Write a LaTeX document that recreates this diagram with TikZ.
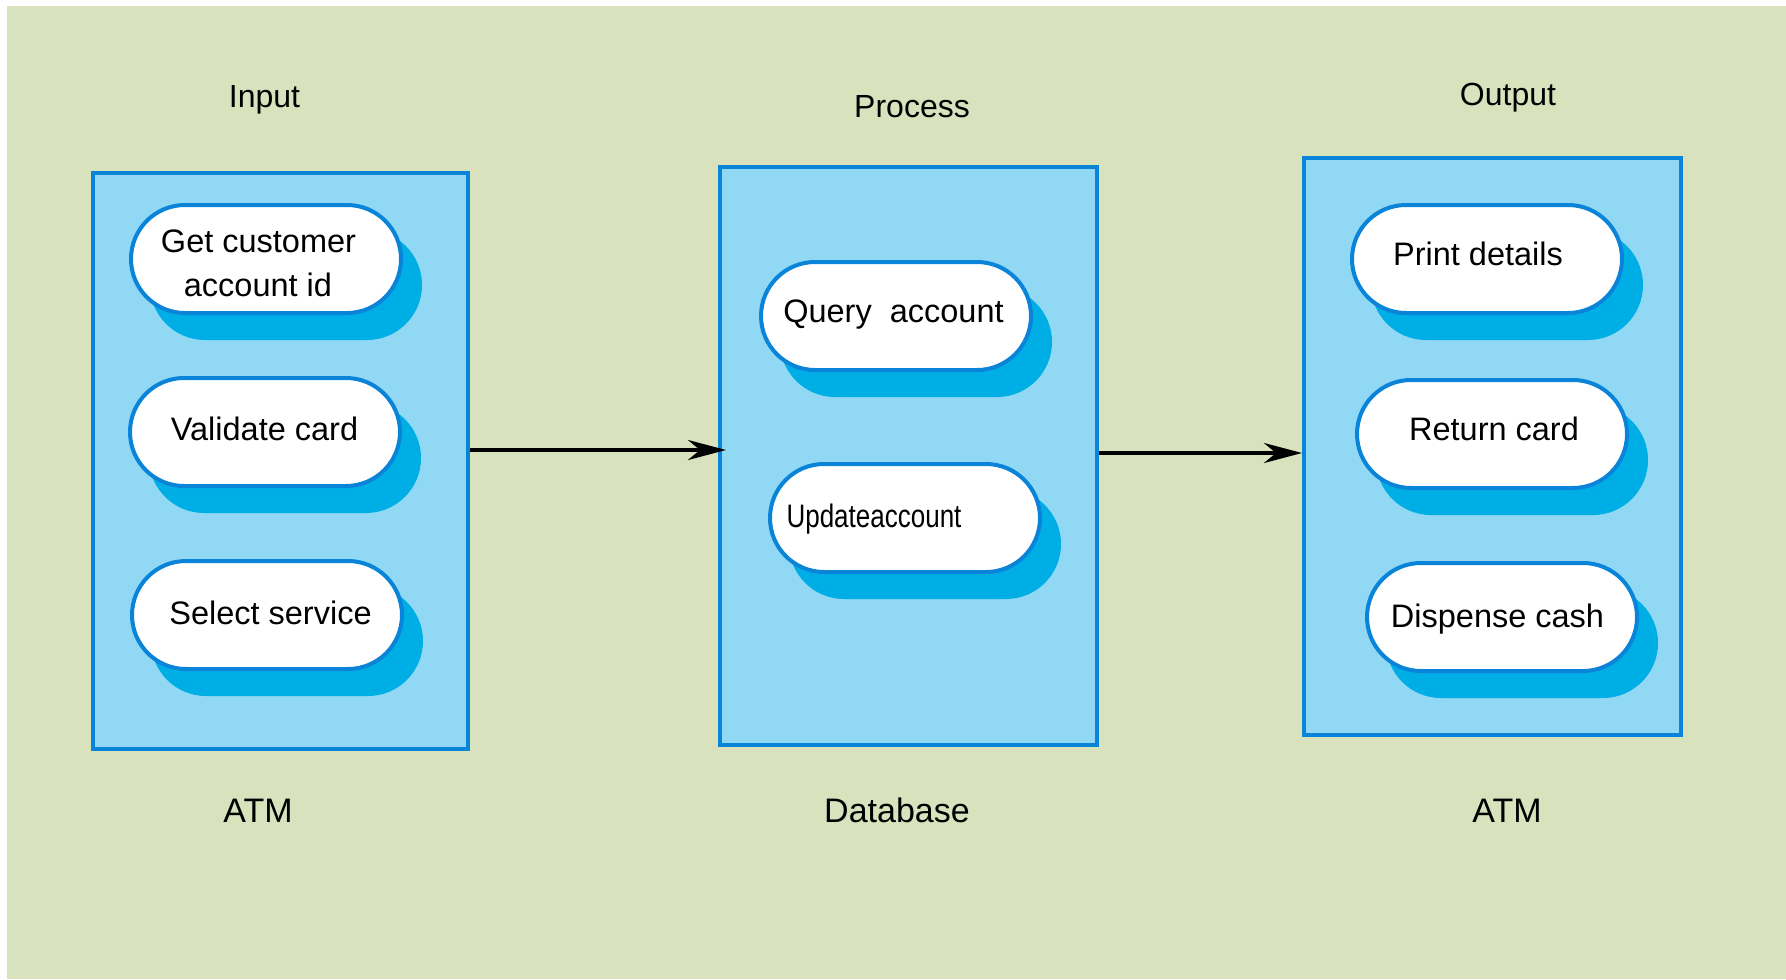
\documentclass[tikz,border=0pt]{standalone}
\usepackage{fontspec}
\setmainfont{Liberation Sans}
\usepackage{graphicx}
\usetikzlibrary{shapes.misc,arrows.meta,calc}
\definecolor{bggreen}{HTML}{D8E3BE}
\definecolor{boxblue}{HTML}{90D8F4}
\definecolor{edgeblue}{HTML}{0A84D8}
\definecolor{shadowblue}{HTML}{00AEE6}
\begin{document}
\begin{tikzpicture}[x=0.5pt,y=-0.5pt,
  pill/.style={rounded rectangle, draw=edgeblue, line width=2pt, fill=white,
    minimum width=135pt, minimum height=54pt, inner sep=0pt},
  pillshadow/.style={rounded rectangle, fill=shadowblue,
    minimum width=136pt, minimum height=55pt, inner sep=0pt},
  group/.style={rectangle, draw=edgeblue, line width=2pt, fill=boxblue, inner sep=0pt},
  ptext/.style={font=\fontsize{16.25}{22}\selectfont, align=center, inner sep=0pt, anchor=base},
  head/.style={font=\fontsize{16}{19}\selectfont, inner sep=0pt, anchor=base},
  foot/.style={font=\fontsize{17}{20}\selectfont, inner sep=0pt, anchor=base},
  arr/.style={line width=2pt, -{Stealth[length=19pt,width=10pt,inset=6pt]}}]
\useasboundingbox (0,0) rectangle (1786,979);
\fill[white] (0,0) rectangle (1786,979);
\fill[bggreen] (7,6) rectangle (1786,979);

% group boxes
\node[group, minimum width=187.5pt, minimum height=288pt] (inbox) at (280.5,461) {};
\node[group, minimum width=188.5pt, minimum height=289pt] (procbox) at (908.5,456) {};
\node[group, minimum width=188.5pt, minimum height=288.5pt] (outbox) at (1492.5,446.5) {};

% shadows
\node[pillshadow] (gcs) at (286,285) {};
\node[pillshadow] (vcs) at (285,458) {};
\node[pillshadow] (sss) at (287,641) {};
\node[pillshadow] (qas) at (916,342) {};
\node[pillshadow] (uas) at (925,544) {};
\node[pillshadow] (pds) at (1507,285) {};
\node[pillshadow] (rcs) at (1512,460) {};
\node[pillshadow] (dcs) at (1522,643) {};

% pills
\node[pill] (gc) at (266,259) {};
\node[pill] (vc) at (265,432) {};
\node[pill] (ss) at (267,615) {};
\node[pill] (qa) at (896,316) {};
\node[pill] (ua) at (905,518) {};
\node[pill] (pd) at (1487,259) {};
\node[pill] (rc) at (1492,434) {};
\node[pill] (dc) at (1502,617) {};

% pill texts
\node[ptext] (gct1) at (258.5,252) {Get customer};
\node[ptext] (gct2) at (258,296) {account id};
\node[ptext] (vct) at (264.5,440) {Validate card};
\node[ptext] (sst) at (270.5,624) {Select service};
\node[ptext] (qat) at (893.5,322) {Query\ \ account};
\node[ptext] (uat) at (874,527) {\scalebox{0.8}[1]{Updateaccount}};
\node[ptext] (pdt) at (1478,265) {Print details};
\node[ptext] (rct) at (1494,440) {Return card};
\node[ptext] (dct) at (1497.5,627) {Dispense cash};

% headers and footers
\node[head] (hin) at (264.5,108) {Input};
\node[head] (hproc) at (912,118) {Process};
\node[head] (hout) at (1508,105) {Output};
\node[foot] (fin) at (258,822) {ATM};
\node[foot] (fproc) at (897,822) {Database};
\node[foot] (fout) at (1507,822) {ATM};

% arrows
\draw[arr] (inbox.east |- 0,450) -- ([xshift=4pt]procbox.west |- 0,450);
\draw[arr] (procbox.east |- 0,453) -- (outbox.west |- 0,453);
\end{tikzpicture}
\end{document}
